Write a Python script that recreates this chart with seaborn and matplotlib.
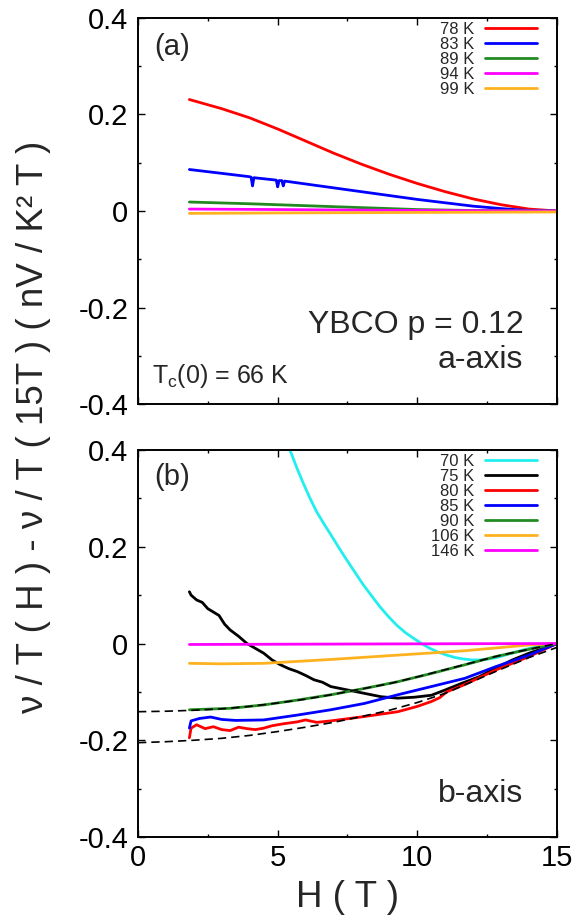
import numpy as np
import pandas as pd
import matplotlib
matplotlib.use("Agg")
import matplotlib.pyplot as plt
from matplotlib.ticker import MultipleLocator, FuncFormatter
import seaborn as sns

# ---------------- data: panel (a), a-axis ----------------
temps_a = ["78 K", "83 K", "89 K", "94 K", "99 K"]
colors_a = ["#ff0000", "#0000ff", "#228b22", "#ff00ff", "#ffb21f"]

H_78 = [1.84, 3.0, 4.0, 5.0, 6.0, 7.0, 8.0, 9.0, 10.0, 11.0, 12.0, 13.0, 14.0, 15.0]
v_78 = [0.231, 0.212, 0.193, 0.170, 0.145, 0.120, 0.097, 0.076, 0.057, 0.040, 0.025, 0.013, 0.004, 0.0]

H_83 = [1.84, 3.0, 4.0, 4.05, 4.1, 4.15, 4.95, 5.0, 5.05, 5.15, 5.2, 5.25, 6.0, 7.0, 8.0,
        9.0, 10.0, 11.0, 12.0, 13.0, 14.0, 15.0]
v_83 = [0.086, 0.078, 0.071, 0.070, 0.052, 0.069, 0.064, 0.050, 0.063, 0.063, 0.052, 0.062,
        0.056, 0.048, 0.040, 0.032, 0.024, 0.017, 0.010, 0.005, 0.001, 0.0]

H_89 = [1.84, 4.0, 6.0, 8.0, 10.0, 12.0, 15.0]
v_89 = [0.0186, 0.015, 0.011, 0.007, 0.003, 0.001, 0.0]

H_94 = [1.84, 5.0, 10.0, 15.0]
v_94 = [0.004, 0.003, 0.001, 0.0]

H_99 = [1.84, 5.0, 10.0, 15.0]
v_99 = [-0.005, -0.004, -0.003, -0.002]

# ---------------- data: panel (b), b-axis ----------------
temps_b = ["70 K", "75 K", "80 K", "85 K", "90 K", "106 K", "146 K"]
colors_b = ["#22eeee", "#000000", "#ff0000", "#0000ff", "#228b22", "#ffb21f", "#ff00ff"]

H_70 = [5.3, 5.44, 5.68, 5.92, 6.16, 6.40, 6.64, 6.87, 7.17, 7.47, 7.77, 8.07, 8.37, 8.66,
        8.96, 9.26, 9.56, 9.86, 10.15, 10.45, 10.75, 11.05, 11.35, 11.65, 11.95, 12.24,
        12.54, 12.84, 13.14, 13.44, 13.74, 14.03, 14.5, 15.0]
v_70 = [0.42, 0.40, 0.364, 0.331, 0.300, 0.272, 0.249, 0.228, 0.200, 0.173, 0.147, 0.121,
        0.098, 0.076, 0.056, 0.038, 0.023, 0.011, 0.000, -0.010, -0.018, -0.024, -0.029,
        -0.032, -0.034, -0.034, -0.032, -0.029, -0.024, -0.019, -0.014, -0.010, -0.005, 0.0]

H_75 = [1.84, 1.9, 2.1, 2.3, 2.5, 2.7, 2.9, 3.1, 3.3, 3.6, 3.9, 4.2, 4.5, 4.8, 5.1, 5.4, 5.7,
        6.0, 6.3, 6.6, 6.9, 7.5, 8.1, 8.7, 9.3, 9.9, 10.5, 11.0, 11.6, 12.2, 12.8, 13.4, 14.0, 15.0]
v_75 = [0.107, 0.100, 0.090, 0.085, 0.072, 0.065, 0.058, 0.040, 0.028, 0.015, 0.0, -0.010,
        -0.020, -0.034, -0.044, -0.052, -0.058, -0.066, -0.075, -0.080, -0.089, -0.096, -0.103,
        -0.110, -0.113, -0.111, -0.107, -0.096, -0.082, -0.069, -0.051, -0.034, -0.020, 0.0]

H_80 = [1.84, 1.9, 2.1, 2.4, 2.7, 3.0, 3.3, 3.6, 3.9, 4.2, 4.5, 4.8, 5.2, 5.7, 6.0, 6.4, 6.9,
        8.1, 9.3, 10.0, 10.5, 10.8, 11.05, 11.65, 12.8, 14.0, 15.0]
v_80 = [-0.195, -0.175, -0.168, -0.176, -0.172, -0.178, -0.180, -0.173, -0.176, -0.178, -0.175,
        -0.170, -0.166, -0.162, -0.158, -0.163, -0.160, -0.151, -0.141, -0.130, -0.120, -0.112,
        -0.100, -0.086, -0.055, -0.027, 0.0]

H_85 = [1.84, 1.9, 2.2, 2.6, 3.0, 3.5, 4.5, 5.7, 6.9, 8.1, 9.3, 10.5, 11.7, 12.8, 14.0, 15.0]
v_85 = [-0.175, -0.160, -0.155, -0.152, -0.157, -0.159, -0.158, -0.148, -0.137, -0.124, -0.106,
        -0.089, -0.072, -0.048, -0.024, 0.0]

H_90 = [1.84, 3.3, 4.5, 5.7, 6.9, 8.1, 9.3, 10.5, 11.7, 12.8, 14.0, 15.0]
v_90 = [-0.137, -0.134, -0.127, -0.117, -0.106, -0.093, -0.079, -0.062, -0.044, -0.027, -0.012, 0.0]

H_106 = [1.84, 3.0, 4.5, 6.9, 9.3, 11.7, 14.0, 15.0]
v_106 = [-0.041, -0.042, -0.041, -0.033, -0.024, -0.015, -0.003, 0.0]

H_146 = [1.84, 8.0, 15.0]
v_146 = [-0.002, -0.001, 0.0]

# dashed fits
H_fit = [0, 1, 2, 3, 4, 5, 6, 7, 8, 9, 10, 11, 12, 13, 14, 15]
fit_90 = [-0.141, -0.140, -0.138, -0.135, -0.130, -0.123, -0.115, -0.105, -0.094, -0.083,
          -0.069, -0.054, -0.039, -0.024, -0.012, 0.0]
fit_80 = [-0.205, -0.203, -0.200, -0.196, -0.190, -0.182, -0.173, -0.163, -0.151, -0.138,
          -0.122, -0.103, -0.078, -0.053, -0.029, -0.008]

x_ticks = [0, 5, 10, 15]
y_ticks = [-0.4, -0.2, 0, 0.2, 0.4]

# ---------------- style ----------------
sns.set_style("ticks")
plt.rcParams["font.family"] = ["Liberation Sans", "DejaVu Sans"]
plt.rcParams["mathtext.fontset"] = "custom"
plt.rcParams["mathtext.rm"] = "Liberation Sans"
plt.rcParams["mathtext.it"] = "Liberation Sans:italic"
plt.rcParams["axes.unicode_minus"] = False


def long_df(Hs, vs, labels):
    frames = []
    for h, v, lab in zip(Hs, vs, labels):
        frames.append(pd.DataFrame({"H": h, "val": v, "T": lab}))
    return pd.concat(frames, ignore_index=True)


df_a = long_df([H_78, H_83, H_89, H_94, H_99], [v_78, v_83, v_89, v_94, v_99], temps_a)
df_b = long_df([H_70, H_75, H_80, H_85, H_90, H_106, H_146],
               [v_70, v_75, v_80, v_85, v_90, v_106, v_146], temps_b)

fig = plt.figure(figsize=(5.81, 9.22), dpi=100)
ax_a = fig.add_axes([0.2375, 0.5618, 0.7212, 0.4187])
ax_b = fig.add_axes([0.2375, 0.0922, 0.7212, 0.4197])

sns.lineplot(data=df_a, x="H", y="val", hue="T", hue_order=temps_a,
             palette=dict(zip(temps_a, colors_a)), estimator=None, sort=False,
             lw=2.0, ax=ax_a)
sns.lineplot(data=df_b, x="H", y="val", hue="T", hue_order=temps_b,
             palette=dict(zip(temps_b, colors_b)), estimator=None, sort=False,
             lw=2.0, ax=ax_b)
for fit in (fit_90, fit_80):
    sns.lineplot(x=H_fit, y=fit, color="black", lw=1.2, linestyle=(0, (5, 3)),
                 estimator=None, sort=False, legend=False, ax=ax_b)

fmt_y = FuncFormatter(lambda v, p: "0" if abs(v) < 1e-9 else f"{v:.1f}")
for ax in (ax_a, ax_b):
    ax.set_xlim(0, 15)
    ax.set_ylim(-0.4, 0.4)
    ax.set_xticks(x_ticks)
    ax.set_yticks(y_ticks)
    ax.xaxis.set_minor_locator(MultipleLocator(2.5))
    ax.yaxis.set_minor_locator(MultipleLocator(0.1))
    ax.yaxis.set_major_formatter(fmt_y)
    ax.tick_params(which="both", direction="in", top=True, right=True, width=1.0,
                   labelsize=21, colors="black")
    ax.tick_params(which="major", length=5)
    ax.tick_params(which="minor", length=2.5)
    ax.tick_params(axis="y", pad=7)
    ax.tick_params(axis="x", pad=5)
    for s in ax.spines.values():
        s.set_linewidth(1.4)
        s.set_color("black")
    ax.set_xlabel("")
    ax.set_ylabel("")
    handles, labels = ax.get_legend_handles_labels()
    for hnd in handles:
        hnd.set_linewidth(2.0)
    ax.legend(handles, labels, loc="upper right", bbox_to_anchor=(0.952, 0.99),
              frameon=False, markerfirst=False, fontsize=12, handlelength=3.1,
              handletextpad=0.65, labelspacing=0.0, borderpad=0, borderaxespad=0)

ax_a.tick_params(labelbottom=False)

ax_a.text(0.081, 0.925, "(a)", transform=ax_a.transAxes, fontsize=21,
          ha="center", va="center")
ax_b.text(0.081, 0.930, "(b)", transform=ax_b.transAxes, fontsize=21,
          ha="center", va="center")
ax_a.text(0.920, -0.253, "YBCO p = 0.12", transform=ax_a.get_yaxis_transform(),
          fontsize=23, ha="right", va="baseline")
ax_a.text(0.920, -0.326, "a-axis", transform=ax_a.get_yaxis_transform(),
          fontsize=23, ha="right", va="baseline")
ax_a.text(0.033, -0.357, r"T$_\mathregular{c}$(0) = 66 K",
          transform=ax_a.get_yaxis_transform(), fontsize=18, ha="left", va="baseline")
ax_b.text(0.920, -0.328, "b-axis", transform=ax_b.get_yaxis_transform(),
          fontsize=23, ha="right", va="baseline")

ax_b.set_xlabel("H ( T )", fontsize=26.5, labelpad=6)
fig.text(0.057, 0.537, "ν / T ( H ) - ν / T ( 15T ) ( nV / K² T )", rotation=90,
         fontsize=26.5, ha="center", va="center")

fig.savefig("out.png", dpi=100)
